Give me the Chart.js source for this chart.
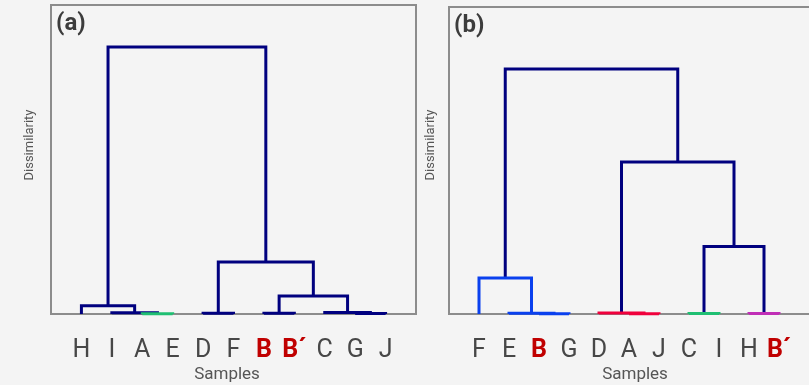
<!DOCTYPE html>
<html>
<head>
<meta charset="utf-8">
<script src="https://cdn.jsdelivr.net/npm/chart.js@4/dist/chart.umd.min.js"></script>
<style>
  html, body { margin: 0; padding: 0; background: #f4f4f4; overflow: hidden; }
  body { width: 809px; height: 385px; position: relative; }
  .panel { position: absolute; top: 0; height: 385px; }
</style>
</head>
<body>
<div class="panel" style="left:0;width:420px"><canvas id="chartA"></canvas></div>
<div class="panel" style="left:400px;width:415px"><canvas id="chartB"></canvas></div>
<script>
// panel (a): leaf order and merges (child ids: 0..10 leaves, 11.. earlier merges)
const leavesA = ['H', 'I', 'A', 'E', 'D', 'F', 'B', 'B´', 'C', 'G', 'J'];
const mergeLeftA = [2, 1, 0, 4, 6, 9, 8, 15, 14, 13];
const mergeRightA = [3, 11, 12, 5, 7, 10, 16, 17, 18, 19];
const mergeHeightA = [0.1, 0.42, 2.7, 0.23, 0.23, 0.2, 0.5, 5.8, 16.8, 86.4];
const mergeClusterA = ['green', 'root', 'root', 'root', 'root', 'root', 'root', 'root', 'root', 'root'];

// panel (b)
const leavesB = ['F', 'E', 'B', 'G', 'D', 'A', 'J', 'C', 'I', 'H', 'B´'];
const mergeLeftB = [2, 1, 0, 5, 4, 7, 9, 16, 15, 13];
const mergeRightB = [3, 11, 12, 6, 14, 8, 10, 17, 18, 19];
const mergeHeightB = [0.1, 0.25, 11.7, 0.1, 0.35, 0.15, 0.15, 22.0, 49.5, 79.8];
const mergeClusterB = ['blue', 'blue', 'blue', 'red', 'red', 'green', 'magenta', 'root', 'root', 'root'];

const highlighted = ['B', 'B´'];

const palette = {
  root: '#00007f',
  green: '#1fbf72',
  blue: '#0a40ee',
  red: '#f0003c',
  magenta: '#c02eb6'
};

function buildLinks(leaves, left, right, height, cluster) {
  const xs = leaves.map((_, i) => i);
  const hs = leaves.map(() => 0);
  const sets = [];
  left.forEach((l, k) => {
    const r = right[k];
    xs.push((xs[l] + xs[r]) / 2);
    hs.push(height[k]);
    sets.push({
      data: [
        { x: xs[l], y: hs[l] },
        { x: xs[l], y: height[k] },
        { x: xs[r], y: height[k] },
        { x: xs[r], y: hs[r] }
      ],
      showLine: true,
      borderColor: palette[cluster[k]],
      borderWidth: 3,
      borderJoinStyle: 'miter',
      pointRadius: 0,
      tension: 0,
      fill: false,
      clip: false
    });
  });
  return sets;
}

function makePanel(id, leaves, sets, opts) {
  const framePlugin = {
    id: 'frame',
    beforeDatasetsDraw(chart) {
      const { ctx, chartArea: a } = chart;
      ctx.save();
      ctx.strokeStyle = '#8c8c8c';
      ctx.lineWidth = 2;
      ctx.strokeRect(a.left, a.top, a.right - a.left, a.bottom - a.top);
      ctx.restore();
    },
    afterDraw(chart) {
      const { ctx, chartArea: a } = chart;
      ctx.save();
      ctx.fillStyle = '#3c3c3c';
      ctx.font = 'bold 24px Roboto';
      ctx.textBaseline = 'top';
      ctx.textAlign = 'left';
      ctx.fillText(opts.tag, a.left + 5, opts.tagY);

      ctx.fillStyle = '#555';
      ctx.font = '17px Roboto';
      ctx.textAlign = 'center';
      ctx.textBaseline = 'middle';
      ctx.fillText('Samples', opts.samplesX, 375);

      ctx.font = '13px Roboto';
      ctx.translate(opts.yTitleX, 145);
      ctx.rotate(-Math.PI / 2);
      ctx.fillText('Dissimilarity', 0, 0);
      ctx.restore();
    }
  };

  return new Chart(document.getElementById(id), {
    type: 'scatter',
    data: { datasets: sets },
    options: {
      responsive: true,
      maintainAspectRatio: false,
      animation: false,
      layout: { padding: { top: opts.top, right: opts.right, left: 0, bottom: 0 } },
      plugins: { legend: { display: false }, tooltip: { enabled: false } },
      scales: {
        x: {
          type: 'linear',
          min: -1,
          max: opts.xMax,
          grid: { display: false, drawTicks: false },
          border: { display: false },
          afterFit: (scale) => { scale.height = 71; },
          afterBuildTicks: (scale) => {
            scale.ticks = leaves.map((_, i) => ({ value: i }));
          },
          ticks: {
            autoSkip: false,
            maxRotation: 0,
            padding: 22,
            callback: (value) => leaves[value],
            color: (ctx) => highlighted.includes(leaves[ctx.index]) ? '#c00000' : '#474747',
            font: (ctx) => ({
              family: 'Roboto',
              size: 25,
              weight: highlighted.includes(leaves[ctx.index]) ? 'bold' : 'normal'
            })
          }
        },
        y: {
          type: 'linear',
          min: 0,
          max: 100,
          grid: { display: false },
          border: { display: false },
          ticks: { display: false },
          afterFit: (scale) => { scale.width = opts.left; }
        }
      }
    },
    plugins: [framePlugin]
  });
}

makePanel('chartA', leavesA,
  buildLinks(leavesA, mergeLeftA, mergeRightA, mergeHeightA, mergeClusterA),
  { tag: '(a)', tagY: 12, top: 5, right: 4, left: 51, xMax: 11, samplesX: 227, yTitleX: 30 });

makePanel('chartB', leavesB,
  buildLinks(leavesB, mergeLeftB, mergeRightB, mergeHeightB, mergeClusterB),
  { tag: '(b)', tagY: 14, top: 7, right: 3, left: 49, xMax: 11.1, samplesX: 235, yTitleX: 31 });
</script>
</body>
</html>
